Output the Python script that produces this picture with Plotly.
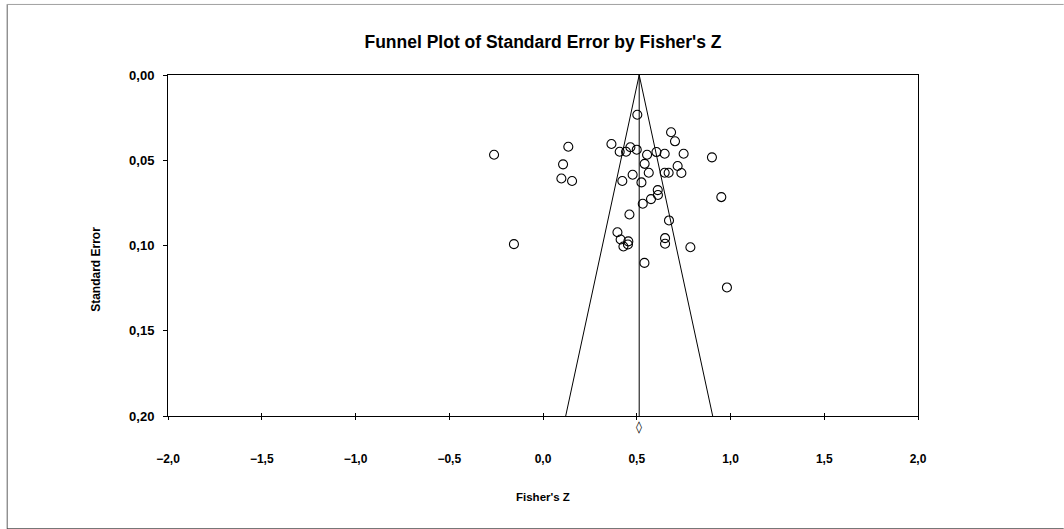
import plotly.graph_objects as go

# Study-level data
fisher_z = [0.503, 0.683, 0.704, 0.365, 0.135, 0.466, 0.409, 0.443, 0.500, 0.605,
            0.649, 0.555, -0.261, 0.750, 0.901, 0.107, 0.542, 0.718, 0.564, 0.649,
            0.670, 0.738, 0.478, 0.098, 0.155, 0.423, 0.525, 0.612, 0.613, 0.576,
            0.951, 0.532, 0.461, 0.672, 0.397, 0.414, 0.455, 0.453, 0.429, 0.651,
            0.651, -0.155, 0.786, 0.541, 0.981]
std_error = [0.0233, 0.0336, 0.0389, 0.0405, 0.0421, 0.0424, 0.0450, 0.0450, 0.0438, 0.0452,
             0.0462, 0.0468, 0.0468, 0.0462, 0.0483, 0.0524, 0.0521, 0.0534, 0.0573, 0.0573,
             0.0573, 0.0575, 0.0585, 0.0607, 0.0622, 0.0622, 0.0630, 0.0675, 0.0704, 0.0728,
             0.0716, 0.0755, 0.0818, 0.0853, 0.0922, 0.0965, 0.0976, 0.0994, 0.1006, 0.0957,
             0.0990, 0.0992, 0.1010, 0.1102, 0.1246]

combined_z = 0.513
se_max = 0.20

x_ticks = [-2.0, -1.5, -1.0, -0.5, 0.0, 0.5, 1.0, 1.5, 2.0]
y_ticks = [0.00, 0.05, 0.10, 0.15, 0.20]

FONT = "Liberation Sans, Arial, sans-serif"

fig = go.Figure()

# second subplot sharing the same box: carries the inside half of the x ticks
fig.add_trace(go.Scatter(x=[combined_z], y=[0.1], xaxis="x2", yaxis="y2", mode="markers",
                         marker=dict(opacity=0), hoverinfo="skip"))
# funnel
lo = combined_z - 1.96 * se_max
hi = combined_z + 1.96 * se_max
fig.add_trace(go.Scatter(x=[lo, combined_z, hi], y=[se_max, 0, se_max], mode="lines",
                         line=dict(color="black", width=1), hoverinfo="skip"))
fig.add_trace(go.Scatter(x=[combined_z, combined_z], y=[0, se_max], mode="lines",
                         line=dict(color="black", width=1), hoverinfo="skip"))
# studies
fig.add_trace(go.Scatter(x=fisher_z, y=std_error, mode="markers",
                         marker=dict(symbol="circle-open", size=9, color="black",
                                     line=dict(width=1.1, color="black"))))

fig.update_layout(
    width=1064, height=529,
    margin=dict(l=168, r=146, t=75, b=113),
    paper_bgcolor="white", plot_bgcolor="rgba(0,0,0,0)",
    separators=",.",
    showlegend=False,
    font=dict(family=FONT, color="black"),
    title=dict(text="Funnel Plot of Standard Error by Fisher's Z",
               x=0.5, xref="paper", xanchor="center",
               y=1 - 41.7 / 529, yref="container", yanchor="middle",
               font=dict(family=FONT, size=17.5, weight="bold", color="black")),
    xaxis=dict(range=[-2, 2], tickvals=x_ticks, tickformat=".1f",
               showgrid=False, zeroline=False,
               showline=True, linecolor="black", linewidth=1, mirror=True,
               ticks="outside", ticklen=3, tickcolor="black", tickwidth=1,
               ticklabelstandoff=29,
               tickfont=dict(family=FONT, size=12, weight="bold", color="black")),
    xaxis2=dict(range=[-2, 2], domain=[0, 1], anchor="y2", tickvals=x_ticks,
                showticklabels=False, showgrid=False, zeroline=False, showline=False,
                side="bottom", ticks="inside", ticklen=3, tickcolor="black", tickwidth=1),
    yaxis2=dict(range=[se_max, 0], domain=[0, 1], anchor="x2", visible=False),
    yaxis=dict(range=[se_max, 0], tickvals=y_ticks, tickformat=".2f",
               showgrid=False, zeroline=False,
               showline=True, linecolor="black", linewidth=1, mirror=True,
               ticks="outside", ticklen=4, tickcolor="black", tickwidth=1,
               ticklabelstandoff=6,
               tickfont=dict(family=FONT, size=13, weight="bold", color="black")),
    annotations=[
        # combined effect (diamond under the axis)
        dict(text="◊", xref="x", yref="paper",
             x=combined_z, y=(415.7 - 426.5) / 340.7,
             showarrow=False, xanchor="center", yanchor="middle",
             font=dict(family="DejaVu Sans, Liberation Sans, sans-serif", size=12,
                       color="black")),
        dict(text="Standard Error", xref="paper", yref="paper",
             x=(96 - 168.3) / 750, y=(415.7 - 269) / 340.7, textangle=-90,
             showarrow=False, xanchor="center", yanchor="middle",
             font=dict(family=FONT, size=12, weight="bold", color="black")),
        dict(text="Fisher's Z", xref="paper", yref="paper",
             x=0.5, y=(415.7 - 496.7) / 340.7,
             showarrow=False, xanchor="center", yanchor="middle",
             font=dict(family=FONT, size=11.5, weight="bold", color="black")),
    ],
    shapes=[
        dict(type="line", xref="paper", yref="paper",
             x0=(7.5 - 168.3) / 750, x1=(7.5 - 168.3) / 750,
             y0=(415.7 - 4.3) / 340.7, y1=(415.7 - 528.7) / 340.7,
             line=dict(color="#606060", width=1)),
        dict(type="line", xref="paper", yref="paper",
             x0=(7.5 - 168.3) / 750, x1=(1064 - 168.3) / 750,
             y0=(415.7 - 4.5) / 340.7, y1=(415.7 - 4.5) / 340.7,
             line=dict(color="#a0a0a0", width=1)),
        dict(type="line", xref="paper", yref="paper",
             x0=(7.5 - 168.3) / 750, x1=(1064 - 168.3) / 750,
             y0=(415.7 - 528.5) / 340.7, y1=(415.7 - 528.5) / 340.7,
             line=dict(color="#202020", width=1)),
    ],
)

fig.write_html("out.html", config={"displayModeBar": False},
               post_script="document.body.style.margin='0';document.body.style.overflow='hidden';")
